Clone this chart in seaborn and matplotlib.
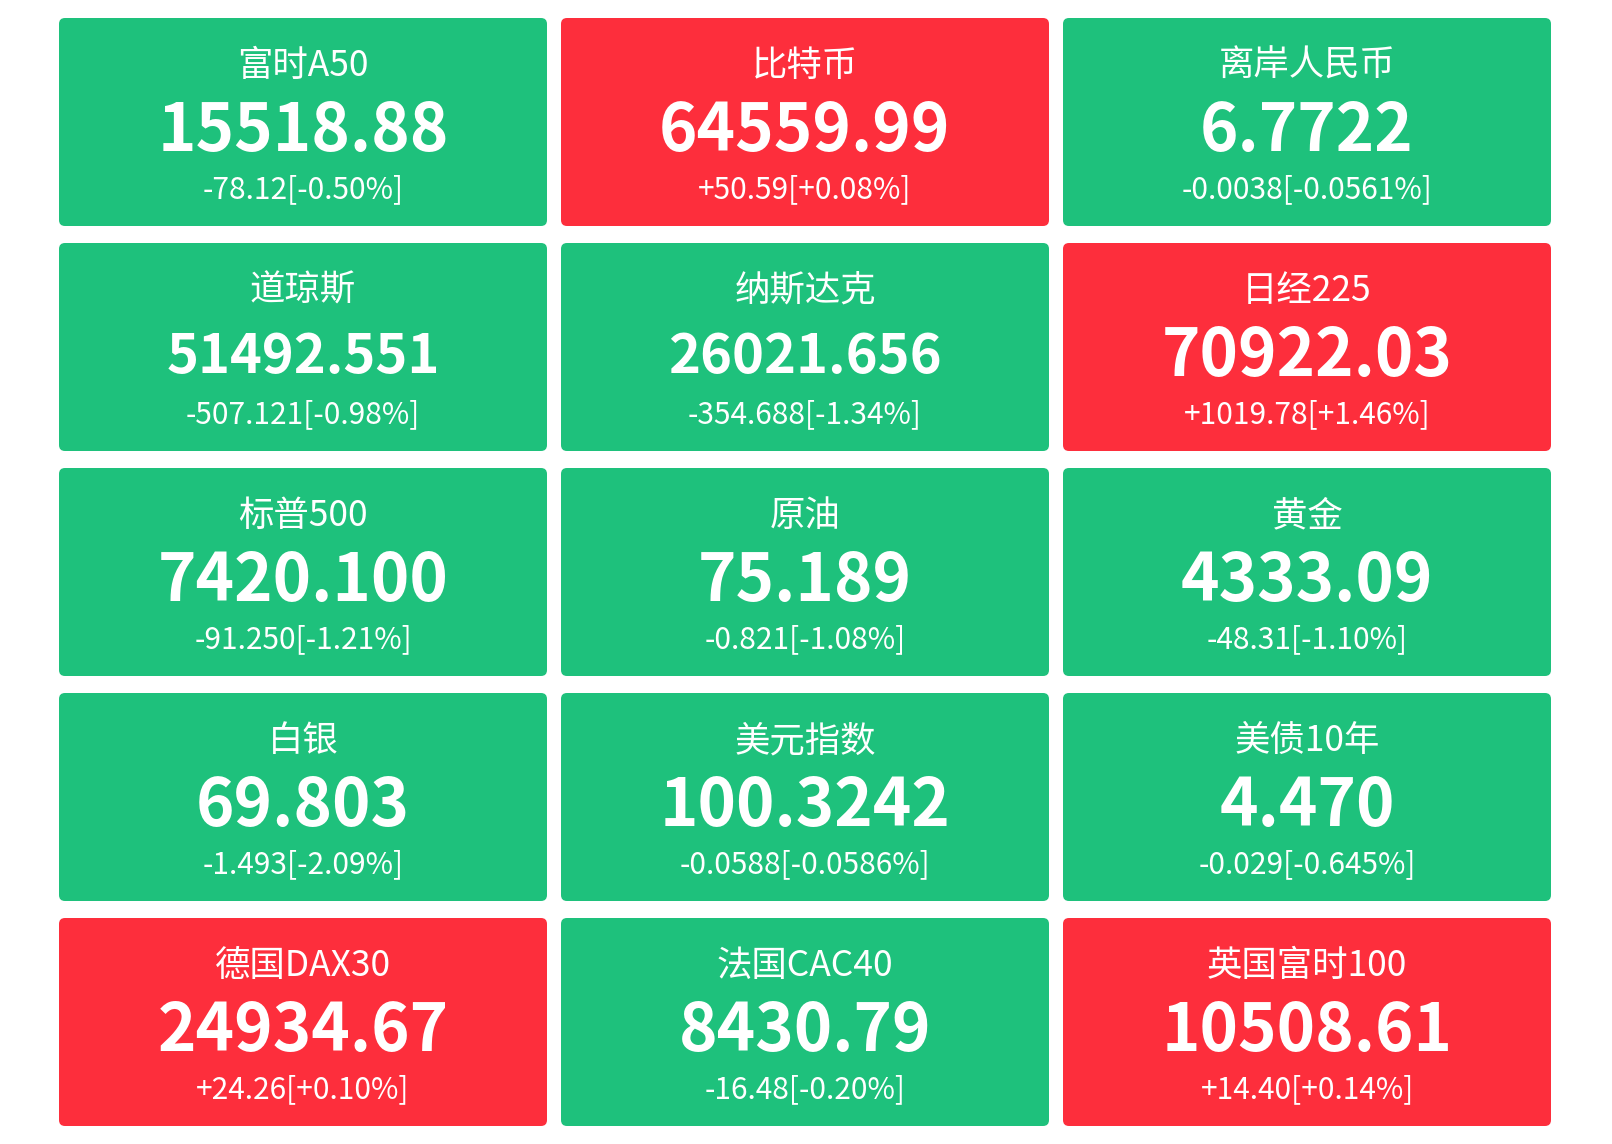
import matplotlib
matplotlib.use("Agg")
import matplotlib.pyplot as plt
from matplotlib.patches import FancyBboxPatch
import seaborn as sns

# market board data, row by row (3 per row)
names = ['富时A50', '比特币', '离岸人民币',
         '道琼斯', '纳斯达克', '日经225',
         '标普500', '原油', '黄金',
         '白银', '美元指数', '美债10年',
         '德国DAX30', '法国CAC40', '英国富时100']
prices = ['15518.88', '64559.99', '6.7722',
          '51492.551', '26021.656', '70922.03',
          '7420.100', '75.189', '4333.09',
          '69.803', '100.3242', '4.470',
          '24934.67', '8430.79', '10508.61']
changes = ['-78.12', '+50.59', '-0.0038',
           '-507.121', '-354.688', '+1019.78',
           '-91.250', '-0.821', '-48.31',
           '-1.493', '-0.0588', '-0.029',
           '+24.26', '-16.48', '+14.40']
pcts = ['-0.50%', '+0.08%', '-0.0561%',
        '-0.98%', '-1.34%', '+1.46%',
        '-1.21%', '-1.08%', '-1.10%',
        '-2.09%', '-0.0586%', '-0.645%',
        '+0.10%', '-0.20%', '+0.14%']

sns.set_theme(style="white")
plt.rcParams['font.family'] = ['Noto Sans CJK SC', 'DejaVu Sans']

up_color = '#fd2e3c'
down_color = '#1ec17c'

W, H = 1612, 1144
fig = plt.figure(figsize=(W / 100, H / 100), dpi=100)
ax = fig.add_axes([0, 0, 1, 1])
ax.set_xlim(0, W)
ax.set_ylim(H, 0)
ax.axis('off')

ncols = 3
x0, y0 = 59, 18
cw, ch = 488, 208
gx, gy = 14, 17

for i, name in enumerate(names):
    r, c = divmod(i, ncols)
    left = x0 + c * (cw + gx)
    top = y0 + r * (ch + gy)
    color = up_color if changes[i].startswith('+') else down_color
    ax.add_patch(FancyBboxPatch((left, top), cw, ch,
                                boxstyle="round,pad=0,rounding_size=6",
                                fc=color, ec='none'))
    cx = left + cw / 2
    ax.text(cx, top + 58, name, ha='center', va='baseline',
            color='white', fontsize=25.5)
    # long numbers are shrunk to fit, like on the board
    long_num = len(prices[i]) > 8
    ax.text(cx, top + (130 if long_num else 133), prices[i],
            ha='center', va='baseline', color='white',
            fontsize=39 if long_num else 47, fontweight='bold')
    ax.text(cx, top + 180, f"{changes[i]}[{pcts[i]}]", ha='center',
            va='baseline', color='white', fontsize=21.5)

fig.savefig('out.png', dpi=100, facecolor='white')
